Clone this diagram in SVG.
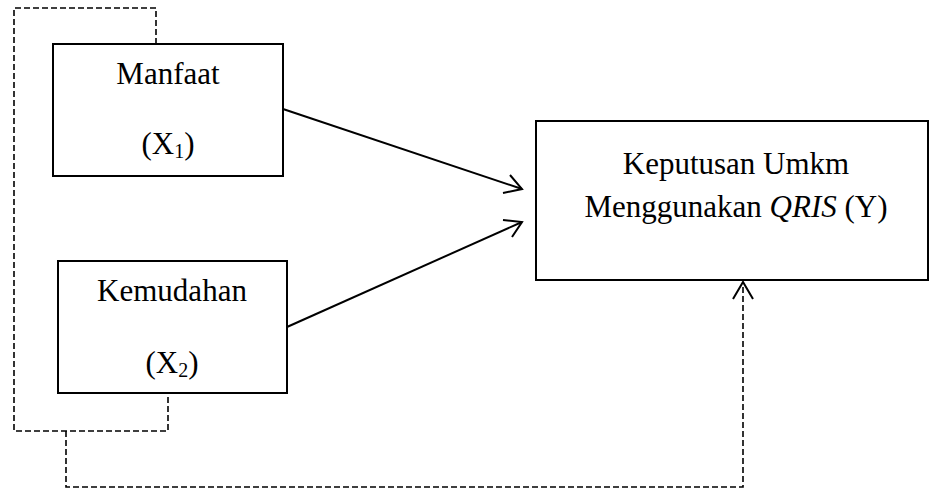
<svg xmlns="http://www.w3.org/2000/svg" width="929" height="490" viewBox="0 0 929 490">
<style>
.box{fill:#fff;stroke:#000;stroke-width:2}
.t{font-family:"Liberation Serif","Times New Roman",serif;font-size:31px;fill:#000;text-anchor:middle}
.sub{font-size:20px}
.arr{fill:none;stroke:#000;stroke-width:2}
.dash{fill:none;stroke:#000;stroke-width:1.6;stroke-dasharray:6,3}
</style>
<rect width="929" height="490" fill="#fff"/>
<g id="connectors">
<polyline class="dash" points="156,44 156,8 14,8 14,431 168,431 168,393"/>
<polyline class="dash" points="66,431 66,487 743,487 743,283"/>
<polyline class="arr" points="733,299 743,282 753,299" stroke-width="1.6"/>
<line class="arr" x1="283" y1="109" x2="522" y2="189"/>
<polyline class="arr" points="503,193 522,189 510,175"/>
<line class="arr" x1="287" y1="327" x2="522" y2="222"/>
<polyline class="arr" points="503,220 522,222 512,237"/>
</g>
<g id="manfaat">
<rect class="box" x="53" y="44" width="230" height="132"/>
<text class="t" x="168" y="84">Manfaat</text>
<text class="t" x="168" y="154">(X<tspan class="sub" dy="4">1</tspan><tspan dy="-4">)</tspan></text>
</g>
<g id="kemudahan">
<rect class="box" x="58" y="261" width="229" height="132"/>
<text class="t" x="172" y="301">Kemudahan</text>
<text class="t" x="172" y="373">(X<tspan class="sub" dy="4">2</tspan><tspan dy="-4">)</tspan></text>
</g>
<g id="keputusan">
<rect class="box" x="536" y="121" width="392" height="159"/>
<text class="t" x="736" y="174">Keputusan Umkm</text>
<text class="t" x="736" y="217">Menggunakan <tspan font-style="italic">QRIS</tspan> (Y)</text>
</g>
</svg>
